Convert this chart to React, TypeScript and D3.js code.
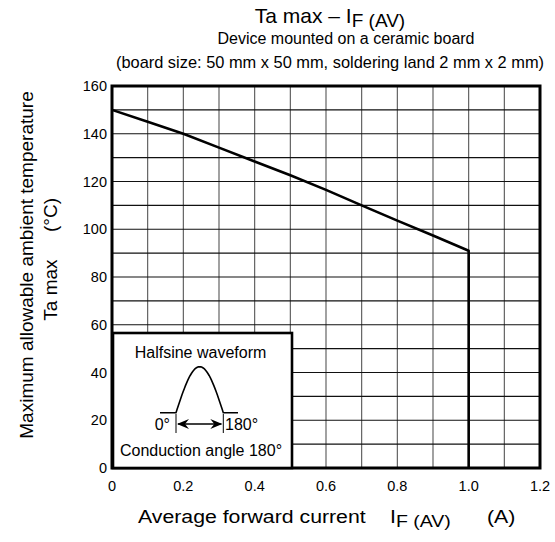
import React from "react";
import * as d3 from "d3";

const currents = [0, 0.1, 0.2, 0.3, 0.4, 0.5, 0.6, 0.7, 0.8, 0.9, 1.0];
const taMax = [150, 145, 140, 134.2, 128.4, 122.6, 116.5, 110, 103.6, 97.4, 91];
const xTicks = [0, 0.2, 0.4, 0.6, 0.8, 1.0, 1.2];
const xTickLabels = ["0", "0.2", "0.4", "0.6", "0.8", "1.0", "1.2"];
const yTicks = [0, 20, 40, 60, 80, 100, 120, 140, 160];
const xGrid = d3.range(0, 13).map((i) => i / 10);
const yGrid = d3.range(0, 17).map((i) => i * 10);

const FONT = "'Liberation Sans', Arial, Helvetica, sans-serif";

export default function App() {
  const W = 555, H = 542;
  const L = 112, R = 540, T = 86, B = 468;
  const x = d3.scaleLinear().domain([0, 1.2]).range([L, R]);
  const y = d3.scaleLinear().domain([0, 160]).range([B, T]);
  const pts: [number, number][] = currents.map((c, i) => [c, taMax[i]]);
  pts.push([currents[currents.length - 1], 0]);
  const line = d3.line<[number, number]>().x((d) => x(d[0])).y((d) => y(d[1]));

  // inset box
  const bx0 = 113, bx1 = 292, by0 = 333, by1 = B;
  const baseY = 412.7, peakY = 366.7, s0 = 176, s1 = 223.3;
  const halfsine = d3.range(0, 41).map((i) => {
    const t = i / 40;
    return [s0 + (s1 - s0) * t, baseY - (baseY - peakY) * Math.sin(Math.PI * t)] as [number, number];
  });
  const hsPath = d3.line()([[160, baseY], ...halfsine, [238, baseY]]);
  const ay = 424;

  return (
    <svg width={W} height={H} style={{ position: "absolute", left: 0, top: 0, background: "#fff" }} fontFamily={FONT}>
      <rect width={W} height={H} fill="#fff" />
      {/* title */}
      <text x={330} y={23} textAnchor="middle" fontSize={21}>
        Ta max – I<tspan fontSize={19} dy={4}>F (AV)</tspan>
      </text>
      <text x={346} y={44} textAnchor="middle" fontSize={16}>Device mounted on a ceramic board</text>
      <text x={330} y={68} textAnchor="middle" fontSize={16.4}>(board size: 50 mm x 50 mm, soldering land 2 mm x 2 mm)</text>

      {/* grid */}
      {xGrid.map((v) => (
        <line key={"vx" + v} x1={x(v)} x2={x(v)} y1={T} y2={B} stroke="#555" strokeWidth={1.1} />
      ))}
      {yGrid.map((v) => (
        <line key={"hy" + v} x1={L} x2={R} y1={y(v)} y2={y(v)} stroke="#111" strokeWidth={1.1} />
      ))}
      <rect x={L} y={T} width={R - L} height={B - T} fill="none" stroke="#000" strokeWidth={3} />

      {/* curve */}
      <path d={line(pts) || ""} fill="none" stroke="#000" strokeWidth={2.6} strokeLinejoin="round" />

      {/* tick labels */}
      {yTicks.map((v) => (
        <text key={"yt" + v} x={107} y={y(v) + 5} textAnchor="end" fontSize={14.5}>{v}</text>
      ))}
      {xTicks.map((v, i) => (
        <text key={"xt" + v} x={x(v)} y={491} textAnchor="middle" fontSize={14.5}>{xTickLabels[i]}</text>
      ))}

      {/* axis titles */}
      <g transform="translate(138,523) scale(1.15,1)">
        <text x={0} y={0} fontSize={18.5}>Average forward current</text>
      </g>
      <g transform="translate(390,523) scale(1.15,1)">
        <text x={0} y={0} fontSize={18.5}>I<tspan fontSize={17} dy={4}>F (AV)</tspan></text>
      </g>
      <g transform="translate(487,523) scale(1.15,1)">
        <text x={0} y={0} fontSize={18.5}>(A)</text>
      </g>
      <text transform="translate(33,265) rotate(-90)" textAnchor="middle" fontSize={19}>Maximum allowable ambient temperature</text>
      <text transform="translate(57,290) rotate(-90)" textAnchor="middle" fontSize={19}>Ta max</text>
      <text transform="translate(57,215) rotate(-90)" textAnchor="middle" fontSize={19}>(°C)</text>

      {/* inset */}
      <rect x={bx0} y={by0} width={bx1 - bx0} height={by1 - by0} fill="#fff" stroke="#000" strokeWidth={2.6} />
      <text x={200.5} y={358} textAnchor="middle" fontSize={16}>Halfsine waveform</text>
      <path d={hsPath || ""} fill="none" stroke="#000" strokeWidth={1.6} />
      <line x1={s0} x2={s0} y1={414} y2={433} stroke="#000" strokeWidth={1} />
      <line x1={s1} x2={s1} y1={414} y2={433} stroke="#000" strokeWidth={1} />
      <line x1={s0 + 2} x2={s1 - 2} y1={ay} y2={ay} stroke="#000" strokeWidth={1.3} />
      <path d={`M${s0 + 1},${ay} L${s0 + 13},${ay - 5} L${s0 + 9},${ay} L${s0 + 13},${ay + 5} Z`} fill="#000" />
      <path d={`M${s1 - 1},${ay} L${s1 - 13},${ay - 5} L${s1 - 9},${ay} L${s1 - 13},${ay + 5} Z`} fill="#000" />
      <text x={170} y={430} textAnchor="end" fontSize={16}>0°</text>
      <text x={225} y={430} fontSize={16}>180°</text>
      <text x={201} y={456} textAnchor="middle" fontSize={16}>Conduction angle 180°</text>
    </svg>
  );
}
